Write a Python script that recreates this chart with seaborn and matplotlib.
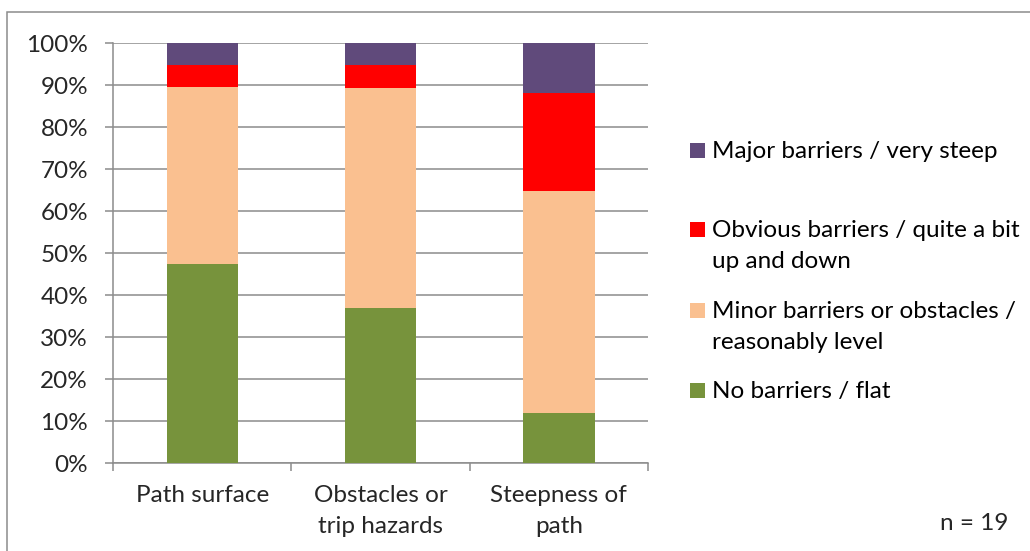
import matplotlib
matplotlib.use("Agg")
import matplotlib.pyplot as plt
from matplotlib.patches import Rectangle
import seaborn as sns
import pandas as pd
import numpy as np

categories = ["Path surface", "Obstacles or\ntrip hazards", "Steepness of\npath"]
no_barriers = [47.4, 36.8, 11.8]
minor = [42.1, 52.6, 52.9]
obvious = [5.3, 5.3, 23.5]
major = [5.2, 5.3, 11.8]
series_names = ["No barriers / flat",
                "Minor barriers or obstacles /\nreasonably level",
                "Obvious barriers / quite a bit\nup and down",
                "Major barriers / very steep"]
colors = ["#77933C", "#FAC090", "#FF0000", "#604A7B"]
yticks = [0, 10, 20, 30, 40, 50, 60, 70, 80, 90, 100]
note = "n = 19"

sns.set_theme(style="white")
FONT = ["Lato", "DejaVu Sans"]
plt.rcParams["font.family"] = FONT
FS = 17.5
LS = 1.6

fig = plt.figure(figsize=(10.3, 5.51), dpi=100)
ax = fig.add_axes([113/1030, 1-463/551, (648-113)/1030, (463-43)/551])

series = [no_barriers, minor, obvious, major]
cum = np.cumsum(np.array(series), axis=0)
order = list(range(4))[::-1]
for i in order:
    df = pd.DataFrame({"cat": categories, "val": cum[i]})
    sns.barplot(data=df, x="cat", y="val", color=colors[i], width=0.4,
                saturation=1, ax=ax, zorder=3, edgecolor="none", linewidth=0)

GC = "#8C8C8C"
LW = 1.1
ax.set_ylim(0, 100)
ax.set_xlim(-0.5, 2.5)
ax.set_yticks(yticks)
ax.set_yticklabels([f"{t}%" for t in yticks])
ax.yaxis.grid(True, color=GC, linewidth=LW, zorder=0)
ax.set_axisbelow(True)
ax.set_xlabel("")
ax.set_ylabel("")
for s in ["top", "right"]:
    ax.spines[s].set_visible(False)
for s in ["left", "bottom"]:
    ax.spines[s].set_color(GC)
    ax.spines[s].set_linewidth(LW)
ax.tick_params(axis="y", length=6, width=LW, color=GC, labelsize=FS, pad=12, left=True)
ax.tick_params(axis="x", which="major", length=0, labelsize=FS, pad=16)
ax.set_xticks([-0.5, 0.5, 1.5, 2.5], minor=True)
ax.tick_params(axis="x", which="minor", length=6, width=LW, color=GC, bottom=True)
for lbl in ax.get_xticklabels():
    lbl.set_linespacing(LS)

# legend (manual, Excel-like placement)
leg_y = [151, 230, 311, 391]
leg_order = [3, 2, 1, 0]
for y, i in zip(leg_y, leg_order):
    fig.patches.append(Rectangle((690/1030, 1-(y+7)/551), 15/1030, 15/551,
                                 transform=fig.transFigure, facecolor=colors[i],
                                 edgecolor="none"))
    fig.text(712/1030, 1-(y-10)/551, series_names[i], fontsize=FS, va="top",
             ha="left", linespacing=LS, color="black")

fig.text(940/1030, 1-523/551, note, fontsize=FS, va="center", ha="left")

# outer chart border
fig.patches.append(Rectangle((7/1030, -0.1), 1.2, 1-12/551+0.1, transform=fig.transFigure,
                             facecolor="none", edgecolor=GC, linewidth=LW))

fig.savefig("out.png", dpi=100)
